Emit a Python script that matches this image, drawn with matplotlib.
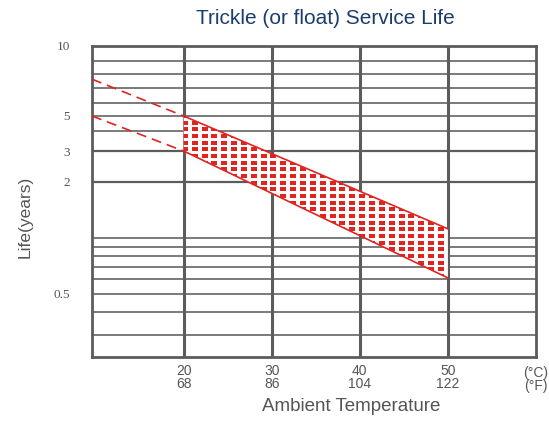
import numpy as np
import matplotlib
matplotlib.use("Agg")
import matplotlib.pyplot as plt
from matplotlib.path import Path
from matplotlib.patches import Polygon

# temperatures (deg C / deg F) and life ticks (years)
temp_c = [20, 30, 40, 50]
temp_f = [68, 86, 104, 122]
life_ticks = [10, 5, 3, 2, 0.5]
life_grid = [8.6, 7.6, 6.6, 5.7, 5, 4, 3, 2, 1.0, 0.9, 0.8, 0.7, 0.6, 0.5, 0.4, 0.3]
thick_grid = [3, 2]

# service life band (solid part) and dashed extension
band_t = [20, 50]
band_hi = [5, 1.12]
band_lo = [3, 0.61]
ext_t = [9.6, 20]
ext_hi = [7.2, 5]
ext_lo = [5, 3]

# the drawing's life axis is not a true log axis: piecewise log between anchors
anchor_life = np.array([0.23, 0.5, 2, 3, 5, 10])
anchor_h = np.array([0, 63, 175, 206, 241, 311])

def fwd(v):
    v = np.clip(np.asarray(v, dtype=float), 1e-6, None)
    return np.interp(np.log10(v), np.log10(anchor_life), anchor_h)

def inv(h):
    return 10 ** np.interp(np.asarray(h, dtype=float), anchor_h, np.log10(anchor_life))

gray = "#5c5c5c"
red = "#e02420"
txt = "#555555"
sans = ["Liberation Sans Narrow", "Liberation Sans", "DejaVu Sans"]

fig = plt.figure(figsize=(5.49, 4.23), dpi=100)
ax = fig.add_axes([92 / 549, 66 / 423, 444 / 549, 311 / 423])
ax.set_yscale("function", functions=(fwd, inv))
ax.set_xlim(9.6, 60)
ax.set_ylim(0.23, 10)

for v in life_grid:
    lw = 1.6 if v in thick_grid else 1.15
    ax.axhline(v, color=gray, lw=lw, zorder=1)
for t in temp_c:
    ax.axvline(t, color=gray, lw=2.2, zorder=1)
for s in ax.spines.values():
    s.set_color(gray)
    s.set_linewidth(2.0)

# white-backed band
ax.fill(band_t + band_t[::-1], band_hi + band_lo[::-1], color="white", lw=0, zorder=1.5)

# band edges
ax.plot(band_t, band_hi, color=red, lw=1.2, zorder=3)
ax.plot(band_t, band_lo, color=red, lw=1.2, zorder=3)
ax.plot(ext_t, ext_hi, color=red, lw=1.2, dashes=(6, 3.6), zorder=3)
ax.plot(ext_t, ext_lo, color=red, lw=1.2, dashes=(6, 3.6), zorder=3)

# dotted fill: grid of small rectangles clipped to the band
verts = list(zip(band_t, band_hi)) + list(zip(band_t[::-1], band_lo[::-1]))
clip = Polygon(verts, closed=True, transform=ax.transData)
gx, gy = np.meshgrid(np.arange(0.2091, 0.82, 9.85 / 444),
                     np.arange(0.1958, 0.9, 6.67 / 311))
rect = Path([(-1, -0.8), (1, -0.8), (1, 0.8), (-1, 0.8), (-1, -0.8)], closed=True)
dots, = ax.plot(gx.ravel(), gy.ravel(), ls="none", marker=rect, ms=3.9, mew=0,
                color=red, transform=ax.transAxes, zorder=2)
dots.set_clip_path(clip)

ax.yaxis.set_minor_locator(matplotlib.ticker.NullLocator())
ax.xaxis.set_minor_locator(matplotlib.ticker.NullLocator())
ax.set_yticks(life_ticks)
ax.set_yticklabels([f"{v:g}" for v in life_ticks], family="Liberation Serif",
                   fontsize=9.5, color=txt)
ax.set_xticks(temp_c)
ax.set_xticklabels([f"{c}\n{f}" for c, f in zip(temp_c, temp_f)], family=sans,
                   fontsize=10, color=txt, linespacing=0.95)
ax.tick_params(axis="y", length=0, pad=16)
ax.tick_params(axis="x", length=0, pad=5)

fig.text(548 / 549, 1 - 366 / 423, "(°C)\n(°F)", ha="right", va="top",
         family=sans, fontsize=10, color=txt, linespacing=0.95)
fig.text(325 / 549, 1 - 19 / 423, "Trickle (or float) Service Life", ha="center",
         va="center", family="Liberation Sans", fontsize=15, color="#1b3d6d")
fig.text(351 / 549, 1 - 406 / 423, "Ambient Temperature", ha="center", va="center",
         family="Liberation Sans", fontsize=13.5, color=txt)
fig.text(25 / 549, 1 - 217 / 423, "Life(years)", ha="center", va="center",
         rotation=90, family=sans, fontsize=12.5, color=txt)

fig.savefig("out.png", dpi=100)
